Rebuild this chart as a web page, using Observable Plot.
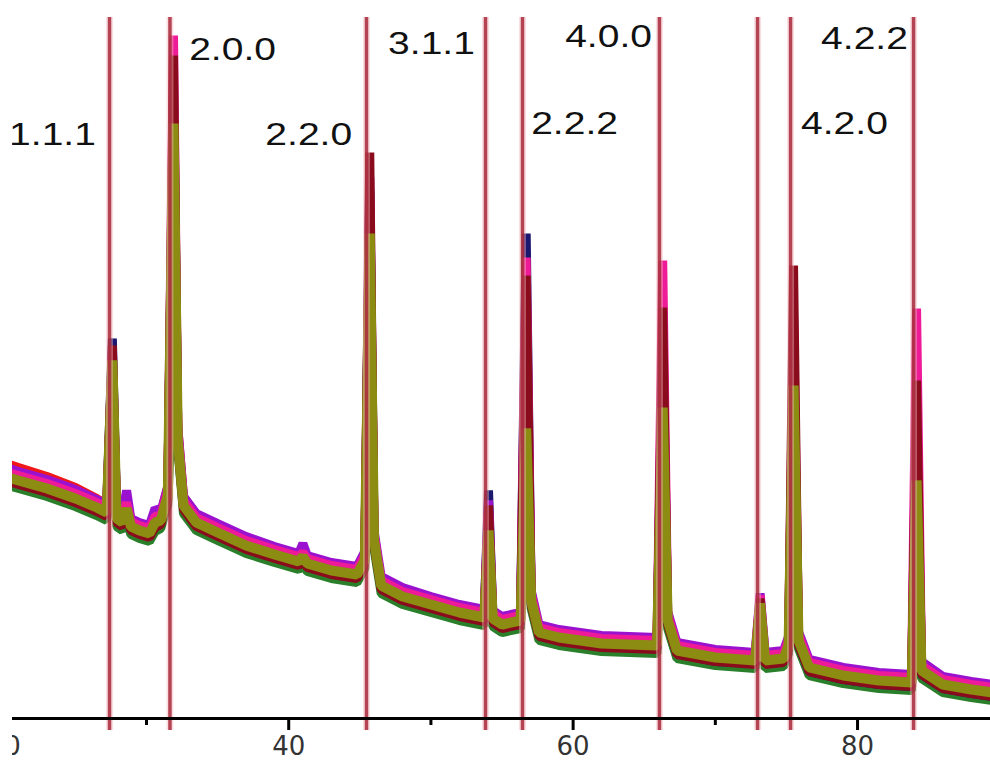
<!DOCTYPE html>
<html>
<head>
<meta charset="utf-8">
<script src="https://cdn.jsdelivr.net/npm/d3@7"></script>
<script src="https://cdn.jsdelivr.net/npm/@observablehq/plot@0.6"></script>
<style>
  html, body { margin: 0; padding: 0; background: #fff; }
  #wrap { position: relative; width: 990px; height: 762px; overflow: hidden; }
  #chart { width: 990px; height: 762px; }
  #edge { position: absolute; left: 0; top: 0; width: 12px; height: 762px; background: #fff; }
</style>
</head>
<body>
<div id="wrap"><div id="chart"></div><div id="edge"></div></div>
<script>
// 2θ sample positions (degrees)
const theta = [19.5, 21, 23, 25, 26.5, 27.2, 27.6, 27.9, 28.3, 28.6,
  28.9, 29.5, 30.2, 30.6, 31.0, 31.5, 31.9, 32.2, 32.6, 33.5,
  35, 37, 39, 40.7, 41.0, 41.3, 43, 44.8, 45.35, 45.7,
  46.0, 46.5, 48, 50, 52, 53.75, 54.05, 54.35, 55, 56.3,
  56.7, 57.05, 57.6, 59, 62, 65.9, 66.3, 66.65, 67.3, 70,
  72.8, 73.15, 73.5, 74.8, 75.15, 75.5, 75.85, 76.6, 79, 81.5,
  83.8, 84.15, 84.5, 86, 88, 90];

// intensities (a.u.) per sample
const redSeries = [258,251,242,231,220,214,358,208,203,216,
  199,194,191,202,205,232,608,290,222,204,
  193,179,169,162,166,160,152,148,163,503,
  184,137,126,117,109,104,203,103,97,101,
  388,122,89,84,78,76,358,102,71,63,
  60,118,60,62,76,348,81,53,45,40,
  38,298,50,36,31,27];
const greenSeries = [236,230,222,212,203,198,348,192,188,200,
  184,180,177,187,190,214,368,270,205,188,
  178,165,156,149,153,147,140,136,150,438,
  170,125,114,106,98,93,178,92,86,90,
  268,110,78,73,67,65,241,90,60,53,
  50,105,50,52,65,298,70,43,35,30,
  28,218,40,26,21,17];
const navySeries = [246,241,233,224,215,210,380,204,200,214,
  196,192,189,200,202,228,638,284,217,200,
  190,177,168,161,165,159,152,148,162,528,
  183,137,126,118,110,105,228,104,98,102,
  485,122,89,83,72,70,378,96,65,57,
  55,118,55,57,70,358,74,47,39,34,
  32,278,44,30,25,21];
const purpleSeries = [254,247,239,229,219,214,368,209,205,228,
  200,196,193,210,206,232,618,292,222,205,
  195,182,172,165,175,163,156,152,167,541,
  188,142,131,122,114,109,218,108,102,106,
  408,128,94,89,83,81,388,107,76,69,
  66,125,66,68,82,368,87,59,51,46,
  44,318,57,42,37,33];
const magentaSeries = [249,243,235,225,216,211,363,205,201,216,
  197,193,190,202,203,228,683,286,218,201,
  191,178,169,162,166,160,153,149,163,518,
  184,138,127,119,111,106,208,105,99,103,
  461,124,91,86,80,78,458,104,73,66,
  63,123,63,65,79,403,84,56,48,43,
  41,410,53,39,34,30];
const darkredSeries = [240,234,226,216,207,202,373,196,192,204,
  188,184,181,191,194,219,663,274,209,192,
  182,169,160,153,157,151,144,140,154,566,
  174,129,118,110,102,97,213,96,90,94,
  443,114,82,77,71,69,411,94,64,57,
  54,120,54,56,69,453,74,47,39,34,
  32,338,44,30,25,21];
const oliveSeries = [244,238,230,220,211,206,358,200,196,210,
  192,188,185,196,198,223,595,278,213,196,
  186,173,164,157,162,155,148,144,158,485,
  178,133,122,114,106,101,188,100,94,98,
  290,118,86,81,75,73,311,98,68,61,
  58,115,58,60,73,333,78,51,43,38,
  36,238,48,34,29,25];

// reference reflection positions (2θ) and labels
const refLines = [27.4, 31.65, 45.47, 53.84, 56.44, 66.07, 72.97, 75.29, 83.94];
const hklLabels = ["1.1.1", "2.0.0", "2.2.0", "3.1.1", "2.2.2", "4.0.0", "4.2.2", "4.2.0"];
const hklX = [23.39, 36.05, 41.41, 50.04, 60.10, 62.49, 80.49, 79.08];
const hklY = [584, 669, 584, 675, 595, 682, 680, 595];

const majorTicks = [20, 40, 60, 80];
const minorTicks = [30, 50, 70];

// drawing order (first drawn at bottom) and colours
const seriesList = [redSeries, greenSeries, navySeries, purpleSeries, magentaSeries, darkredSeries, oliveSeries];
const seriesColors = ["#f01818", "#2a7f2a", "#1c1870", "#9a12d0", "#ee1a98", "#8a0c1c", "#8c8c12"];

const lineMarks = seriesList.map((vals, k) => {
  const rows = theta.map((t, i) => ({t, v: vals[i]}));
  return Plot.line(rows, {
    x: "t", y: "v",
    stroke: seriesColors[k],
    strokeWidth: k === seriesList.length - 1 ? 10 : 9,
    strokeLinejoin: "bevel",
    clip: true
  });
});

const labelRows = hklLabels.map((s, i) => ({s, x: hklX[i], y: hklY[i]}));

const plot = Plot.plot({
  width: 990,
  height: 762,
  marginTop: 17,
  marginBottom: 44,
  marginLeft: 0,
  marginRight: 0,
  style: {background: "white", fontFamily: "DejaVu Sans, sans-serif", color: "#222"},
  x: {domain: [19.733, 89.35]},
  y: {domain: [0, 701], axis: null},
  marks: [
    ...lineMarks,
    Plot.ruleX(refLines, {stroke: "#f2b8bc", strokeWidth: 7, strokeOpacity: 0.45, insetBottom: -12}),
    Plot.ruleX(refLines, {stroke: "#a8283a", strokeWidth: 3.5, strokeOpacity: 0.85, insetBottom: -12}),
    Plot.ruleY([0], {stroke: "#000", strokeWidth: 3}),
    Plot.axisX({ticks: majorTicks, tickSize: 12, tickPadding: 6, strokeWidth: 3, stroke: "#000",
      fontSize: 26, fill: "#333", label: null, tickFormat: d => String(d)}),
    Plot.axisX({ticks: minorTicks, tickSize: 7, strokeWidth: 3, stroke: "#000",
      tickFormat: () => "", label: null}),
    Plot.text(labelRows, {x: "x", y: "y", text: "s", fontSize: 32,
      fontFamily: "Liberation Sans, Arial, sans-serif", fill: "#111", textAnchor: "middle"})
  ]
});

document.getElementById("chart").appendChild(plot);

// widen the hkl labels horizontally like the reference lettering
d3.select(plot).selectAll('g[aria-label="text"] text').each(function() {
  const tr = this.getAttribute("transform") || "";
  this.setAttribute("transform", tr + " scale(1.22,1)");
});
</script>
</body>
</html>
